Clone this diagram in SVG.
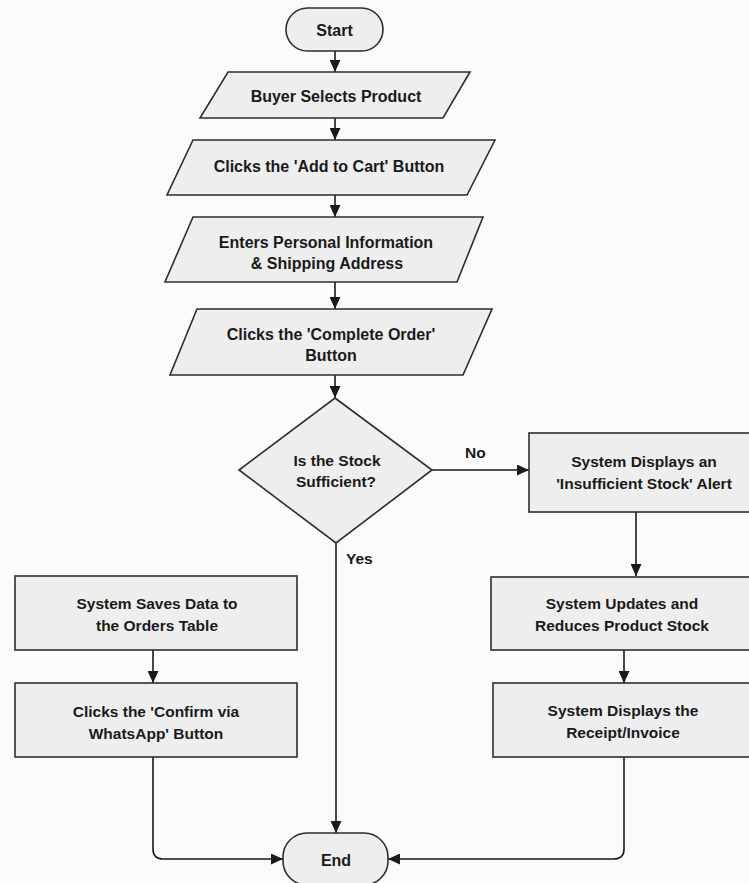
<svg xmlns="http://www.w3.org/2000/svg" width="749" height="883" viewBox="0 0 749 883">
<defs>
<marker id="ah" markerUnits="userSpaceOnUse" markerWidth="12" markerHeight="11" refX="12" refY="5.5" orient="auto">
<path d="M0,0 L12,5.5 L0,11 Z" fill="#1a1a1a"/>
</marker>
<style>
.s{fill:#eeeeee;stroke:#2e2e2e;stroke-width:1.6}
.t{font-family:"Liberation Sans",Arial,sans-serif;font-weight:bold;font-size:15.5px;fill:#1a1a1a;text-anchor:middle}
.p{font-size:16px}
.c{fill:none;stroke:#1a1a1a;stroke-width:1.6;marker-end:url(#ah)}
.l{font-family:"Liberation Sans",Arial,sans-serif;font-weight:bold;font-size:15.5px;fill:#1a1a1a}
</style>
</defs>
<rect width="749" height="883" fill="#fbfbfb"/>
<g id="connectors">
<path class="c" d="M335,51 V72"/>
<path class="c" d="M335,118 V140"/>
<path class="c" d="M335,195 V217"/>
<path class="c" d="M335,282 V309"/>
<path class="c" d="M335,375 V398"/>
<path class="c" d="M432,470 H529"/>
<path class="c" d="M636,512 V576"/>
<path class="c" d="M624,650 V683"/>
<path class="c" d="M624,757 V849 Q624,859 614,859 H388"/>
<path class="c" d="M336,543 V833"/>
<path class="c" d="M153,650 V683"/>
<path class="c" d="M153,757 V849 Q153,859 163,859 H283"/>
<text class="l" x="465" y="458">No</text>
<text class="l" x="346" y="564">Yes</text>
</g>
<g id="start">
<rect class="s" x="286" y="8" width="97" height="43" rx="21.5"/>
<text class="t p" x="334.5" y="36">Start</text>
</g>
<g id="buyer-selects">
<polygon class="s" points="228,72 470,72 443,118 200,118"/>
<text class="t p" x="336" y="102">Buyer Selects Product</text>
</g>
<g id="add-to-cart">
<polygon class="s" points="193,140 495,140 467,195 167,195"/>
<text class="t p" x="329" y="172">Clicks the 'Add to Cart' Button</text>
</g>
<g id="personal-info">
<polygon class="s" points="193,217 483,217 457,282 165,282"/>
<text class="t p" x="326" y="248">Enters Personal Information</text>
<text class="t p" x="327" y="269">&amp; Shipping Address</text>
</g>
<g id="complete-order">
<polygon class="s" points="197,309 492,309 463,375 170,375"/>
<text class="t p" x="331" y="340">Clicks the 'Complete Order'</text>
<text class="t p" x="331" y="361">Button</text>
</g>
<g id="stock-decision">
<polygon class="s" points="335,398 432,470 336,543 239,470"/>
<text class="t" x="337" y="466">Is the Stock</text>
<text class="t" x="336" y="487">Sufficient?</text>
</g>
<g id="insufficient-alert">
<rect class="s" x="529" y="433" width="232" height="79"/>
<text class="t" x="644" y="467">System Displays an</text>
<text class="t" x="644" y="489">'Insufficient Stock' Alert</text>
</g>
<g id="update-stock">
<rect class="s" x="491" y="577" width="264" height="73"/>
<text class="t" x="622" y="609">System Updates and</text>
<text class="t" x="622" y="631">Reduces Product Stock</text>
</g>
<g id="receipt">
<rect class="s" x="493" y="683" width="262" height="74"/>
<text class="t" x="623" y="716">System Displays the</text>
<text class="t" x="623" y="738">Receipt/Invoice</text>
</g>
<g id="save-orders">
<rect class="s" x="15" y="576" width="282" height="74"/>
<text class="t" x="157" y="609">System Saves Data to</text>
<text class="t" x="157" y="631">the Orders Table</text>
</g>
<g id="confirm-whatsapp">
<rect class="s" x="15" y="683" width="282" height="74"/>
<text class="t" x="156" y="717">Clicks the 'Confirm via</text>
<text class="t" x="156" y="739">WhatsApp' Button</text>
</g>
<g id="end">
<rect class="s" x="283" y="833" width="105" height="52" rx="24"/>
<text class="t p" x="336" y="866">End</text>
</g>
</svg>
